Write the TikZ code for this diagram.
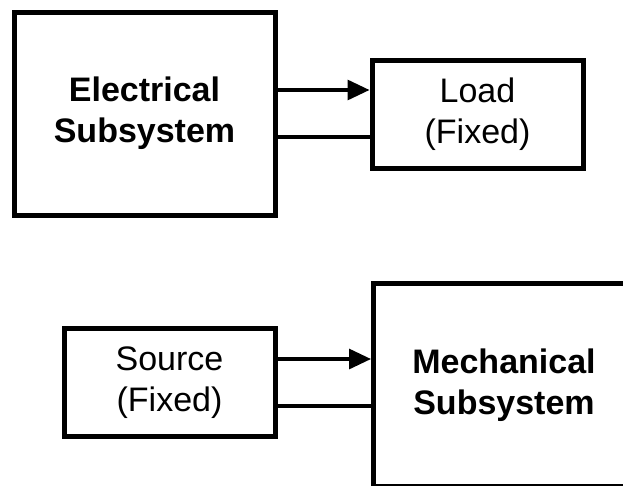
\documentclass[tikz,border=0pt]{standalone}
\usepackage{fontspec}
\setmainfont{Liberation Sans}
\usetikzlibrary{arrows.meta}

\begin{document}
\begin{tikzpicture}[x=1pt, y=-1pt,
    block/.style={draw=black, line width=5pt, fill=white, align=center, inner sep=0pt,
      font=\fontsize{34}{41}\selectfont},
    bigblock/.style={block, minimum width=261pt, minimum height=203pt, font=\fontsize{34}{41}\selectfont\bfseries},
    smallblock/.style={block, minimum width=211pt, minimum height=108pt},
    wire/.style={draw=black, line width=3.2pt},
    sig/.style={wire, -{Triangle[length=22pt, width=20pt]}}]
  \clip (0,0) rectangle (623,485);
  \fill[white] (0,0) rectangle (623,485);
  % top pair
  \node[bigblock] (elec) at (144.5,113.5) {Electrical\\Subsystem};
  \node[smallblock] (load) at (477.5,114) {Load\\(Fixed)};
  % bottom pair
  \node[smallblock] (src) at (169.5,382.5) {Source\\(Fixed)};
  \node[bigblock] (mech) at (504,385) {Mechanical\\Subsystem};
  % connectors: one arrow and one return line per pair
  \foreach \a/\b in {elec/load, src/mech}{
    \draw[sig] ([yshift=23.5pt]\a.east) -- ([yshift=23.5pt]\a.east -| \b.west);
    \draw[wire] ([yshift=-23.5pt]\a.east) -- ([yshift=-23.5pt]\a.east -| \b.west);
  }
\end{tikzpicture}
\end{document}
